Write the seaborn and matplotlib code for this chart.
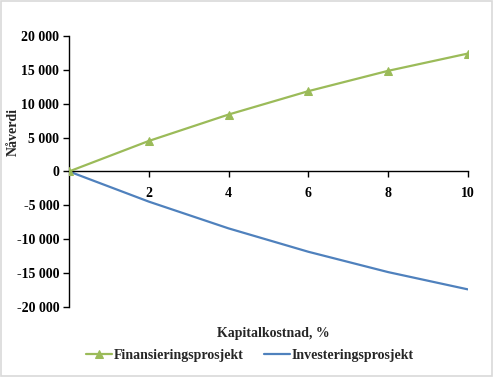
import matplotlib
matplotlib.use("Agg")
import matplotlib.pyplot as plt
import numpy as np
import pandas as pd
import seaborn as sns
from matplotlib.patches import Rectangle
from matplotlib.ticker import FuncFormatter

rates = [0, 2, 4, 6, 8, 10]
finansiering = [0, 4500, 8400, 11850, 14850, 17400]
investering = [0, -4450, -8400, -11850, -14850, -17400]
series_names = ["Finansieringsprosjekt", "Investeringsprosjekt"]
y_ticks = [-20000, -15000, -10000, -5000, 0, 5000, 10000, 15000, 20000]
x_ticks = [2, 4, 6, 8, 10]

GREEN = "#9BBB59"
BLUE = "#4F81BD"

sns.set_theme(style="white")
plt.rcParams["font.family"] = ["Liberation Serif", "DejaVu Serif"]
plt.rcParams["font.weight"] = "bold"

fin = pd.DataFrame({"rate": rates, "npv": finansiering})
inv = pd.DataFrame({"rate": rates, "npv": investering})

fig = plt.figure(figsize=(4.93, 3.77), dpi=100)
ax = fig.add_axes([0.14, 0.1857, 0.809, 0.719])

sns.lineplot(data=fin, x="rate", y="npv", ax=ax, color=GREEN, linewidth=1.6,
             marker="^", markersize=6, markeredgecolor=GREEN, label=series_names[0], zorder=3)
sns.lineplot(data=inv, x="rate", y="npv", ax=ax, color=BLUE, linewidth=1.6,
             label=series_names[1], zorder=2)

ax.set_xlim(0, 10)
ax.set_ylim(-20000, 20000)
ax.set_xticks(x_ticks)
ax.set_yticks(y_ticks)
ax.yaxis.set_major_formatter(FuncFormatter(lambda v, _: f"{v:,.0f}".replace(",", " ")))

for side in ["top", "right"]:
    ax.spines[side].set_visible(False)
ax.spines["bottom"].set_position(("data", 0))
for side in ["left", "bottom"]:
    ax.spines[side].set_color("black")
    ax.spines[side].set_linewidth(1.0)

ax.tick_params(axis="both", which="major", direction="out", length=4, width=1,
               color="black", labelsize=10, labelcolor="black")
ax.tick_params(axis="y", left=True, pad=3)
ax.tick_params(axis="x", bottom=True, pad=7)
for lbl in ax.get_xticklabels() + ax.get_yticklabels():
    lbl.set_fontweight("bold")

ax.set_ylabel("")
ax.set_xlabel("")
fig.text(0.026, 0.65, "Nåverdi", rotation=90, ha="center", va="center",
         fontsize=10, fontweight="bold")
fig.text(0.555, 0.116, "Kapitalkostnad, %", ha="center", va="center",
         fontsize=10, fontweight="bold")

ax.legend(loc="center", bbox_to_anchor=(0.507, 0.058), bbox_transform=fig.transFigure,
          ncol=2, frameon=False, prop={"size": 10, "weight": "bold"},
          handlelength=1.9, handletextpad=0.15, columnspacing=1.4)

fig.patches.append(Rectangle((0.002, 0.003), 0.996, 0.994, transform=fig.transFigure,
                             fill=False, edgecolor="#D9D9D9", linewidth=1.2))

fig.savefig("out.png", dpi=100)
